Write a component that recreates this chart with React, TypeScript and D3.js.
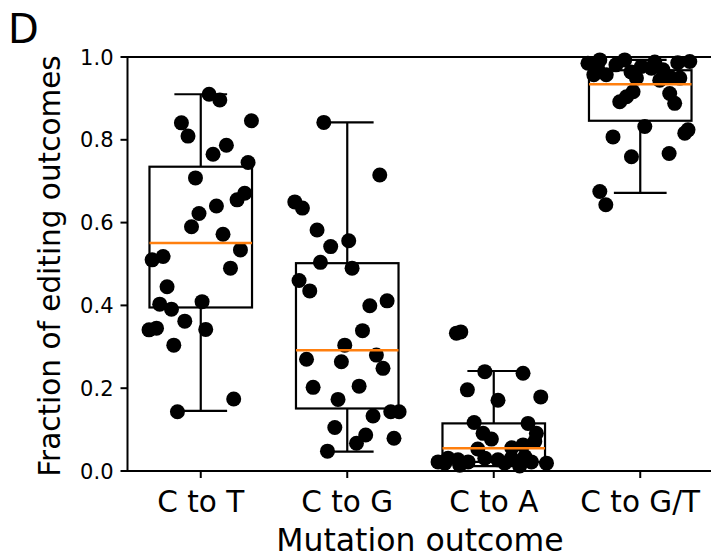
import React from "react";
import * as d3 from "d3";

const width = 711;
const height = 557;

const categories = ["C to T", "C to G", "C to A", "C to G/T"];
const yTicks = [0, 0.2, 0.4, 0.6, 0.8, 1.0];

// box stats: [whisker low, q1, median, q3, whisker high]
const boxStats = [
  [0.145, 0.395, 0.551, 0.735, 0.91],
  [0.047, 0.151, 0.2915, 0.502, 0.842],
  [0.012, 0.022, 0.055, 0.115, 0.2415],
  [0.672, 0.846, 0.934, 0.968, 0.993],
];

// jittered points: [offset from category centre, value]
const ctoT = [
  [0.057, 0.91], [0.13, 0.896], [-0.132, 0.841], [-0.087, 0.809], [0.346, 0.846],
  [0.175, 0.787], [0.084, 0.765], [0.323, 0.745], [-0.036, 0.708], [0.3, 0.671],
  [0.248, 0.655], [0.107, 0.64], [-0.012, 0.622], [-0.063, 0.59], [0.152, 0.572],
  [0.271, 0.534], [-0.257, 0.518], [-0.332, 0.51], [0.203, 0.49], [-0.23, 0.445],
  [-0.28, 0.403], [-0.2, 0.391], [0.009, 0.409], [-0.302, 0.345], [-0.353, 0.341],
  [-0.109, 0.362], [0.034, 0.342], [-0.184, 0.304], [0.225, 0.174], [-0.159, 0.143],
];
const ctoG = [
  [-0.16, 0.842], [0.222, 0.715], [-0.358, 0.65], [-0.306, 0.635], [-0.206, 0.582],
  [-0.113, 0.542], [0.01, 0.556], [-0.183, 0.504], [0.033, 0.49], [-0.329, 0.46],
  [-0.256, 0.435], [0.154, 0.399], [0.272, 0.411], [0.104, 0.339], [-0.017, 0.304],
  [-0.278, 0.27], [-0.04, 0.264], [0.199, 0.28], [0.244, 0.248], [-0.233, 0.202],
  [0.081, 0.205], [-0.063, 0.173], [0.176, 0.133], [0.297, 0.143], [0.354, 0.143],
  [-0.085, 0.105], [0.126, 0.087], [0.063, 0.067], [0.319, 0.079], [-0.135, 0.048],
];
const ctoA = [
  [-0.255, 0.333], [-0.225, 0.336], [-0.061, 0.24], [0.2, 0.236], [-0.18, 0.196],
  [0.029, 0.171], [0.321, 0.179], [-0.134, 0.117], [-0.073, 0.091], [-0.016, 0.077],
  [0.234, 0.115], [0.291, 0.091], [0.2, 0.063], [0.28, 0.071], [-0.38, 0.022],
  [-0.312, 0.031], [-0.244, 0.027], [-0.175, 0.022], [-0.061, 0.031], [0.029, 0.027],
  [0.121, 0.031], [0.212, 0.035], [0.36, 0.019], [-0.334, 0.019], [0.075, 0.019],
  [0.257, 0.022], [-0.109, 0.053], [0.123, 0.056], [-0.232, 0.014], [0.177, 0.012],
];
const ctoGT = [
  [-0.357, 0.985], [-0.291, 0.973], [-0.232, 0.957], [-0.166, 0.981], [-0.063, 0.964],
  [0.008, 0.977], [0.076, 0.973], [0.155, 0.969], [0.201, 0.952], [0.338, 0.989],
  [0.27, 0.949], [-0.026, 0.949], [-0.276, 0.993], [-0.106, 0.993], [0.099, 0.988],
  [0.256, 0.986], [-0.317, 0.957], [0.133, 0.944],
  [-0.14, 0.892], [-0.049, 0.916], [-0.094, 0.904], [0.201, 0.912], [0.235, 0.888],
  [0.031, 0.832], [-0.186, 0.807], [0.304, 0.816], [0.326, 0.824], [-0.06, 0.759],
  [0.197, 0.767], [-0.276, 0.675], [-0.235, 0.643],
];
const points = [ctoT, ctoG, ctoA, ctoGT];

const left = 127.5;
const right = 713.5;
const top = 57;
const bottom = 471;

const font = "DejaVu Sans, sans-serif";

export default function App() {
  const x = d3.scaleLinear().domain([0.5, 4.5]).range([left, right]);
  const y = d3.scaleLinear().domain([0, 1]).range([bottom, top]);
  const boxW = 0.7;
  const capW = 0.36;

  return (
    <svg
      width={width}
      height={height}
      style={{ position: "absolute", left: 0, top: 0, background: "#fff" }}
    >
      {points.map((pts, i) =>
        pts.map((p, j) => (
          <circle key={`${i}-${j}`} cx={x(i + 1 + p[0])} cy={y(p[1])} r={7.5} fill="#000" />
        ))
      )}
      {boxStats.map((s, i) => {
        const c = i + 1;
        const [wl, q1, med, q3, wh] = s;
        return (
          <g key={i} fill="none" stroke="#000" strokeWidth={2.2}>
            <rect x={x(c - boxW / 2)} y={y(q3)} width={x(c + boxW / 2) - x(c - boxW / 2)} height={y(q1) - y(q3)} />
            <line x1={x(c)} x2={x(c)} y1={y(q3)} y2={y(wh)} />
            <line x1={x(c)} x2={x(c)} y1={y(q1)} y2={y(wl)} />
            <line x1={x(c - capW / 2)} x2={x(c + capW / 2)} y1={y(wh)} y2={y(wh)} />
            <line x1={x(c - capW / 2)} x2={x(c + capW / 2)} y1={y(wl)} y2={y(wl)} />
            <line x1={x(c - boxW / 2)} x2={x(c + boxW / 2)} y1={y(med)} y2={y(med)} stroke="#ff7f0e" strokeWidth={2.5} />
          </g>
        );
      })}
      <rect x={left} y={top} width={right - left} height={bottom - top} fill="none" stroke="#000" strokeWidth={2} />
      {yTicks.map((t) => (
        <g key={t}>
          <line x1={left - 7} x2={left} y1={y(t)} y2={y(t)} stroke="#000" strokeWidth={2} />
          <text x={left - 14} y={y(t)} dy="0.36em" textAnchor="end" fontFamily={font} fontSize={21} fill="#000">
            {t.toFixed(1)}
          </text>
        </g>
      ))}
      {categories.map((c, i) => (
        <g key={c}>
          <line x1={x(i + 1)} x2={x(i + 1)} y1={bottom} y2={bottom + 7} stroke="#000" strokeWidth={2} />
          <text x={x(i + 1)} y={512} textAnchor="middle" fontFamily={font} fontSize={29.5} fill="#000">
            {c}
          </text>
        </g>
      ))}
      <text x={420} y={551} textAnchor="middle" fontFamily={font} fontSize={31.5} fill="#000">
        Mutation outcome
      </text>
      <text
        transform={`translate(60,${(top + bottom) / 2 + 2}) rotate(-90)`}
        textAnchor="middle"
        fontFamily={font}
        fontSize={29.5}
        fill="#000"
      >
        Fraction of editing outcomes
      </text>
      <text x={8} y={43} fontFamily={font} fontSize={40} fill="#000">
        D
      </text>
    </svg>
  );
}
